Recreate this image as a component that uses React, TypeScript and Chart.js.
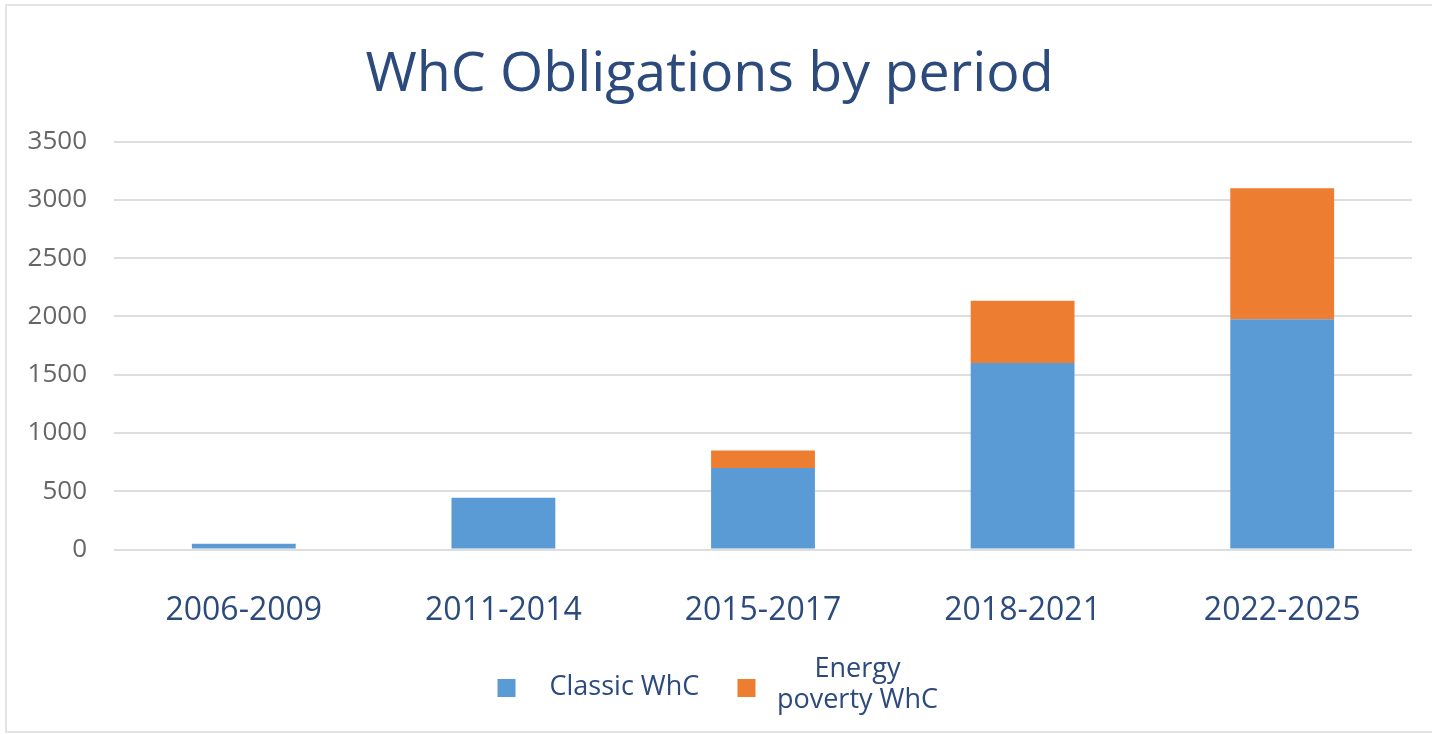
import { useEffect, useRef } from 'react';
import { Chart, registerables } from 'chart.js';

Chart.register(...registerables);

const categories = ['2006-2009', '2011-2014', '2015-2017', '2018-2021', '2022-2025'];
const classicWhC = [50, 445, 700, 1600, 1975];
const energyPovertyWhC = [0, 0, 150, 535, 1125];
const seriesLabels = ['Classic WhC', 'Energy poverty WhC'];
const legendLines = [['Classic WhC'], ['Energy', 'poverty WhC']];
const yMax = 3500;
const yStep = 500;

const TITLE_COLOR = '#2C4A7C';
const BLUE = '#5B9BD5';
const ORANGE = '#ED7D31';
const FONT = '"Open Sans", "DejaVu Sans", sans-serif';

const customLegend = {
  id: 'customLegend',
  afterDraw(chart: any) {
    const ctx = chart.ctx as CanvasRenderingContext2D;
    const cx = chart.width / 2;
    const h = chart.height;
    const size = 27;
    ctx.save();
    ctx.font = `${size}px ${FONT}`;
    ctx.textBaseline = 'alphabetic';
    const ds = chart.data.datasets;
    // item 1
    ctx.fillStyle = ds[0].backgroundColor;
    ctx.fillRect(cx - 222, h - 52, 18, 18);
    ctx.fillStyle = TITLE_COLOR;
    ctx.textAlign = 'left';
    ctx.fillText(legendLines[0][0], cx - 170, h - 36);
    // item 2
    ctx.fillStyle = ds[1].backgroundColor;
    ctx.fillRect(cx + 18, h - 52, 18, 18);
    ctx.fillStyle = TITLE_COLOR;
    ctx.textAlign = 'center';
    ctx.fillText(legendLines[1][0], cx + 138, h - 54);
    ctx.fillText(legendLines[1][1], cx + 138, h - 23);
    ctx.restore();
  },
};

export default function App() {
  const ref = useRef<HTMLCanvasElement>(null);

  useEffect(() => {
    const chart = new Chart(ref.current as HTMLCanvasElement, {
      type: 'bar',
      data: {
        labels: categories,
        datasets: [
          {
            label: seriesLabels[0],
            data: classicWhC,
            backgroundColor: BLUE,
            borderWidth: 0,
            barPercentage: 0.4,
            categoryPercentage: 1,
          },
          {
            label: seriesLabels[1],
            data: energyPovertyWhC,
            backgroundColor: ORANGE,
            borderWidth: 0,
            barPercentage: 0.4,
            categoryPercentage: 1,
          },
        ],
      },
      options: {
        animation: false,
        responsive: true,
        maintainAspectRatio: false,
        layout: { padding: { left: 0, right: 20, top: 0, bottom: 59 } },
        plugins: {
          legend: { display: false },
          tooltip: { enabled: false },
          title: {
            display: true,
            text: 'WhC Obligations by period',
            color: TITLE_COLOR,
            font: { family: FONT, size: 55.5, weight: 'normal' },
            padding: { top: 36, bottom: 33 },
          },
        },
        scales: {
          x: {
            stacked: true,
            grid: { display: false, drawTicks: false },
            border: { display: false },
            ticks: {
              color: TITLE_COLOR,
              font: { family: FONT, size: 32 },
              padding: 42,
              maxRotation: 0,
            },
          },
          y: {
            stacked: true,
            min: 0,
            max: yMax,
            grid: { color: '#dedede', lineWidth: 2, drawTicks: false },
            border: { display: false },
            ticks: {
              stepSize: yStep,
              color: '#666666',
              font: { family: FONT, size: 26 },
              padding: 27,
              callback: (v: any) => String(v),
            },
            afterFit: (scale: any) => {
              scale.width = 107;
            },
          },
        },
      },
      plugins: [customLegend],
    });
    return () => chart.destroy();
  }, []);

  return (
    <div
      style={{
        position: 'absolute',
        left: 5,
        top: 4,
        width: 1427,
        height: 729,
        boxSizing: 'border-box',
        borderLeft: '2px solid #e4e4e4',
        borderTop: '2px solid #e4e4e4',
        borderBottom: '2px solid #e4e4e4',
        background: '#ffffff',
      }}
    >
      <div style={{ position: 'relative', width: 1425, height: 725 }}>
        <canvas ref={ref} />
      </div>
    </div>
  );
}
